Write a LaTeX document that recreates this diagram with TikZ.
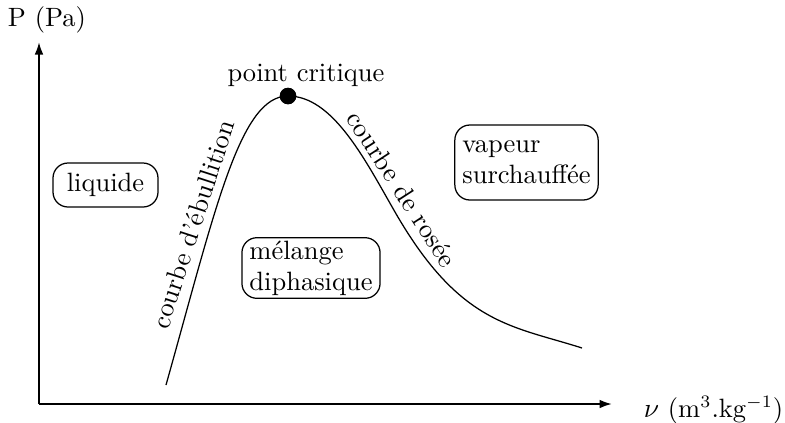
\documentclass[tikz,border=0pt]{standalone}
\usetikzlibrary{arrows.meta}
\begin{document}
\begin{tikzpicture}[x=0.4pt,y=-0.4pt,
  every node/.style={font=\fontsize{10.6}{12.4}\selectfont},
  axis/.style={line width=0.8pt,-{Latex[length=5pt,width=3.5pt]}},
  region/.style={draw,rounded corners=6pt,align=left,inner xsep=3pt,inner ysep=1.2pt,line width=0.5pt},
  curvelabel/.style={inner sep=0pt}]
\useasboundingbox (0,0) rectangle (785,422);
\coordinate (O) at (39,404);
\coordinate (ytip) at (39,42);
\coordinate (xtip) at (612,404);
\draw[axis] (O) -- (ytip);
\draw[axis] (O) -- (xtip);
\node (ylab) at (47,20) {P (Pa)};
\node[anchor=west] (xlab) at (635,410) {$\nu$ (m$^3$.kg$^{-1}$)};
% saturation curve
\coordinate (c0) at (166,385);
\coordinate (c3) at (395,212);
\coordinate (c4) at (582,348);
\node[circle,fill,inner sep=0pt,minimum size=6.6pt] (pc) at (288,96) {};
\draw[line width=0.5pt] (c0) .. controls (216,207) and (240,96) .. (pc.center)
  .. controls (333,96) and (365,159.8) .. (c3)
  .. controls (460,325) and (512,325.6) .. (c4);
\node[circle,fill,inner sep=0pt,minimum size=6.6pt] at (pc) {};
\node (pclab) at (306,75) {point critique};
% labels along the curve
\node[curvelabel,rotate=72] (ebu) at (193,224) {courbe d'ébullition};
\node[curvelabel,rotate=-57] (ros) at (402,189) {courbe de rosée};
% regions
\node[region,minimum width=42pt,minimum height=17.6pt] (liq) at (105.5,185) {liquide};
\node[region] (mel) at (311,268) {mélange\\diphasique};
\node[region,minimum width=57.2pt,minimum height=30pt] (vap) at (526.5,162.5) {vapeur\\surchauffée};
\end{tikzpicture}
\end{document}
